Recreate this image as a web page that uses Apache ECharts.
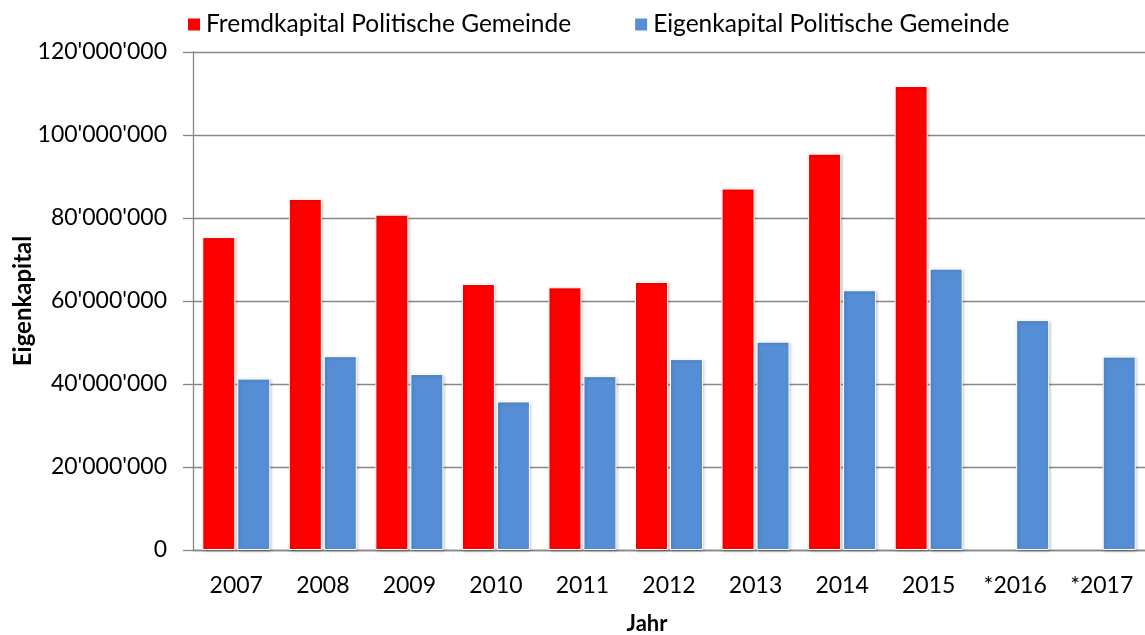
<!DOCTYPE html>
<html>
<head>
<meta charset="utf-8">
<script src="https://cdn.jsdelivr.net/npm/echarts@6/dist/echarts.min.js"></script>
<style>
  html, body { margin: 0; padding: 0; background: #fff; }
  #chart { width: 1145px; height: 635px; }
</style>
</head>
<body>
<div id="chart"></div>
<script>
// Jahre (x-Achse)
const years = ['2007', '2008', '2009', '2010', '2011', '2012', '2013', '2014', '2015', '*2016', '*2017'];
// Fremdkapital, für 2016/2017 keine Werte
const fremdkapital = [75400000, 84600000, 80800000, 64100000, 63300000, 64600000, 87100000, 95500000, 111800000, null, null];
// Eigenkapital
const eigenkapital = [41300000, 46700000, 42400000, 35800000, 41900000, 46000000, 50200000, 62600000, 67800000, 55400000, 46600000];

const font = 'Lato, "Open Sans", sans-serif';
const gridColor = '#868686';

// 120000000 -> 120'000'000
const fmt = (v) => String(v).replace(/\B(?=(\d{3})+(?!\d))/g, "'");

const barStyle = (color) => ({
  color: color,
  borderColor: '#fff',
  borderWidth: 1,
  shadowBlur: 3,
  shadowColor: 'rgba(0,0,0,0.25)',
  shadowOffsetX: 1,
  shadowOffsetY: 1
});

const chart = echarts.init(document.getElementById('chart'));
chart.setOption({
  animation: false,
  textStyle: { fontFamily: font },
  legend: {
    left: 181,
    top: 7,
    icon: 'rect',
    itemWidth: 14,
    itemHeight: 14,
    itemGap: 62,
    textStyle: { fontSize: 24.5, color: '#000', fontFamily: font }
  },
  grid: { left: 193, right: 0, top: 52, bottom: 85, containLabel: false, outerBoundsMode: 'none' },
  xAxis: {
    type: 'category',
    data: years,
    name: 'Jahr',
    nameLocation: 'middle',
    nameGap: 63,
    nameTextStyle: { fontSize: 22, fontWeight: 'bold', color: '#000', fontFamily: font, padding: [0, 44, 0, 0] },
    axisLine: { lineStyle: { color: gridColor, width: 1.3 } },
    axisTick: { show: false },
    axisLabel: { fontSize: 23, color: '#000', margin: 24, interval: 0, fontFamily: font }
  },
  yAxis: {
    type: 'value',
    min: 0,
    max: 120000000,
    interval: 20000000,
    name: 'Eigenkapital',
    nameLocation: 'middle',
    nameGap: 158,
    nameMoveOverlap: false,
    nameTextStyle: { fontSize: 24, fontWeight: 'bold', color: '#000', fontFamily: font },
    axisLine: { show: true, lineStyle: { color: gridColor, width: 1.3 } },
    axisTick: { show: true, length: 10, lineStyle: { color: gridColor, width: 1.3 } },
    axisLabel: { fontSize: 23, color: '#000', margin: 26, formatter: fmt, fontFamily: font },
    splitLine: { lineStyle: { color: gridColor, width: 1.3 } }
  },
  series: [
    {
      name: 'Fremdkapital Politische Gemeinde',
      type: 'bar',
      data: fremdkapital,
      barWidth: 33,
      barGap: '6%',
      itemStyle: barStyle('#ff0000')
    },
    {
      name: 'Eigenkapital Politische Gemeinde',
      type: 'bar',
      data: eigenkapital,
      barWidth: 33,
      itemStyle: barStyle('#558ed5')
    }
  ]
});
</script>
</body>
</html>
